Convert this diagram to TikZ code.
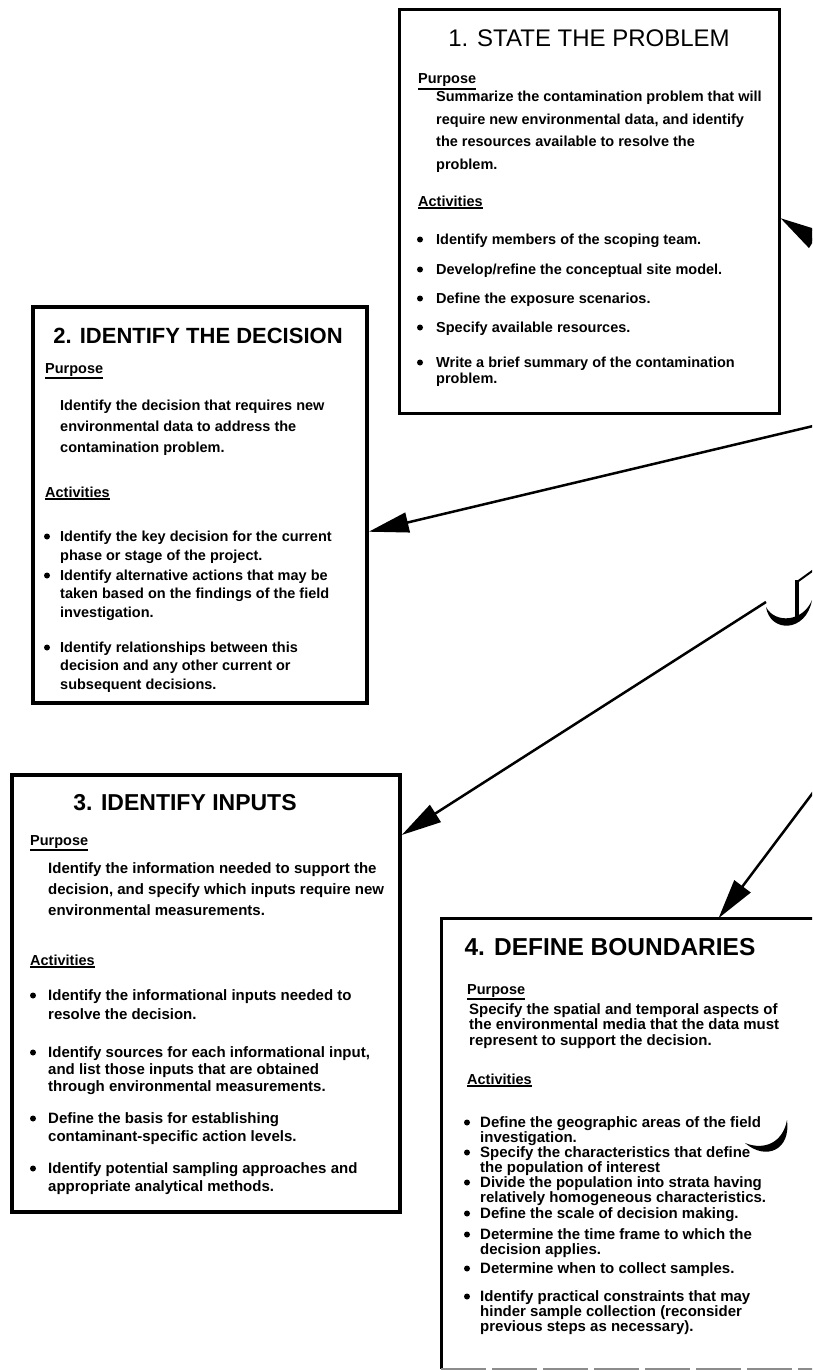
\documentclass[tikz,border=0pt]{standalone}
\usepackage{fontspec}
\setmainfont{Liberation Sans}
\usetikzlibrary{arrows.meta}

\newcommand{\undl}[1]{\vtop{\hbox{#1}\kern1.2pt\hrule height 1.6pt}}
\newcommand{\lines}[1]{\begin{tabular}[t]{@{}l@{}}#1\end{tabular}}

\tikzset{
  stepbox/.style={draw, line width=3.5pt, inner sep=0pt},
  steptitle/.style={anchor=base, inner sep=0pt, font=\fontsize{#1}{#1}\selectfont\bfseries},
  subhead/.style={anchor=base west, inner sep=0pt, font=\fontsize{14.5}{16}\selectfont\bfseries},
  stepbody/.style 2 args={anchor=base west, inner sep=0pt,
    font=\fontsize{#1}{#2}\selectfont\bfseries},
  flow/.style={line width=2.5pt, -{Triangle[length=40pt, width=20pt]}}
}

\begin{document}
\begin{tikzpicture}[x=1pt, y=-1pt]
  % page frame
  \useasboundingbox (0, 0) rectangle (812, 1370);
  \clip (0, 0) rectangle (812, 1370);
  % outlines
  \node [stepbox, line width=3pt, minimum width=380pt, minimum height=403pt] (box1) at (589, 211.5) {};
  \node [stepbox, minimum width=334pt, minimum height=396pt] (box2) at (200, 505) {};
  \node [stepbox, minimum width=388pt, minimum height=437pt] (box3) at (206, 993.5) {};
  \node [stepbox, draw=none, minimum width=387pt, minimum height=447pt] (box4) at (636.5, 1143.5) {};
  \draw [line width=3.5pt] (box4.south west) -- (box4.north west) -- (box4.north east);
  \draw [line width=2pt, black!45, dash pattern=on 45pt off 6pt] (box4.south west) -- (box4.south east);
  % step 1
  \node [steptitle=24, font=\fontsize{24}{24}\selectfont] (t1) at (589, 47) {1. STATE THE PROBLEM};
  \node [subhead] (p1) at (418, 84) {\undl{Purpose}};
  \node [stepbody={14.5}{22.5}] (pb1) at (436, 102) {\lines{Summarize the contamination problem that will\\
    require new environmental data, and identify\\
    the resources available to resolve the\\
    problem.}};
  \node [subhead] (a1) at (418, 206) {\undl{Activities}};
  \node [stepbody={14.5}{19}] (b11) at (436, 244) {Identify members of the scoping team.};
  \node [stepbody={14.5}{19}] (b12) at (436, 274) {Develop/refine the conceptual site model.};
  \node [stepbody={14.5}{19}] (b13) at (436, 303) {Define the exposure scenarios.};
  \node [stepbody={14.5}{19}] (b14) at (436, 332) {Specify available resources.};
  \node [stepbody={14.5}{16}] (b15) at (436, 367) {\lines{Write a brief summary of the contamination\\
    problem.}};
  \foreach \y in {244, 274, 303, 332, 367}
    \fill (420, \y-4.5) circle (3);
  % step 2
  \node [steptitle=22] (t2) at (198, 343) {2. IDENTIFY THE DECISION};
  \node [subhead] (p2) at (45, 373) {\undl{Purpose}};
  \node [stepbody={14.5}{21}] (pb2) at (60, 410) {\lines{Identify the decision that requires new\\
    environmental data to address the\\
    contamination problem.}};
  \node [subhead] (a2) at (45, 497) {\undl{Activities}};
  \node [stepbody={14.5}{19}] (b21) at (60, 541) {\lines{Identify the key decision for the current\\
    phase or stage of the project.}};
  \node [stepbody={14.5}{18.5}] (b22) at (60, 580) {\lines{Identify alternative actions that may be\\
    taken based on the findings of the field\\
    investigation.}};
  \node [stepbody={14.5}{18.5}] (b23) at (60, 652) {\lines{Identify relationships between this\\
    decision and any other current or\\
    subsequent decisions.}};
  \foreach \y in {541, 580, 652}
    \fill (47, \y-4.5) circle (3);
  % step 3
  \node [steptitle=23] (t3) at (185, 810) {3. IDENTIFY INPUTS};
  \node [subhead] (p3) at (30, 845) {\undl{Purpose}};
  \node [stepbody={15}{21}] (pb3) at (48, 873) {\lines{Identify the information needed to support the\\
    decision, and specify which inputs require new\\
    environmental measurements.}};
  \node [subhead] (a3) at (30, 965) {\undl{Activities}};
  \node [stepbody={15}{19}] (b31) at (48, 1000) {\lines{Identify the informational inputs needed to\\
    resolve the decision.}};
  \node [stepbody={15}{17}] (b32) at (48, 1057) {\lines{Identify sources for each informational input,\\
    and list those inputs that are obtained\\
    through environmental measurements.}};
  \node [stepbody={15}{18}] (b33) at (48, 1123) {\lines{Define the basis for establishing\\
    contaminant-specific action levels.}};
  \node [stepbody={15}{18}] (b34) at (48, 1173) {\lines{Identify potential sampling approaches and\\
    appropriate analytical methods.}};
  \foreach \y in {1000, 1057, 1123, 1173}
    \fill (33, \y-4.5) circle (3);
  % step 4
  \node [steptitle=24.5] (t4) at (610, 955) {4. DEFINE BOUNDARIES};
  \node [subhead] (p4) at (467, 994) {\undl{Purpose}};
  \node [stepbody={15}{15.5}] (pb4) at (469, 1014) {\lines{Specify the spatial and temporal aspects of\\
    the environmental media that the data must\\
    represent to support the decision.}};
  \node [subhead] (a4) at (467, 1084) {\undl{Activities}};
  \node [stepbody={15}{15.5}] (b41) at (480, 1127) {\lines{Define the geographic areas of the field\\
    investigation.}};
  \node [stepbody={15}{15}] (b42) at (480, 1157) {\lines{Specify the characteristics that define\\
    the population of interest}};
  \node [stepbody={15}{14.5}] (b43) at (480, 1187) {\lines{Divide the population into strata having\\
    relatively homogeneous characteristics.}};
  \node [stepbody={15}{15}] (b44) at (480, 1218) {Define the scale of decision making.};
  \node [stepbody={15}{14}] (b45) at (480, 1239) {\lines{Determine the time frame to which the\\
    decision applies.}};
  \node [stepbody={15}{15}] (b46) at (480, 1273) {Determine when to collect samples.};
  \node [stepbody={15}{14}] (b47) at (480, 1301) {\lines{Identify practical constraints that may\\
    hinder sample collection (reconsider\\
    previous steps as necessary).}};
  \foreach \y in {1127, 1157, 1187, 1218, 1239, 1273, 1301}
    \fill (467, \y-4.5) circle (3);
  % marks left on the sheet
  \fill (766, 607) .. controls (770, 633) and (806, 633) .. (812, 600)
    .. controls (803, 622) and (775, 624) .. (766, 607);
  \draw [line width=3.5pt] (797, 580) -- (797, 618);
  \draw [line width=2pt] (797, 582) -- (815, 569);
  \fill (787, 1120) .. controls (791, 1150) and (766, 1161) .. (745, 1143)
    .. controls (765, 1151) and (783, 1142) .. (787, 1120);
  % connectors
  \coordinate (in1) at (859, 267);
  \coordinate (in2) at (830, 422);
  \coordinate (in3) at (766, 602);
  \coordinate (in4) at (830, 770);
  \draw [flow] (in1) -- (box1.-2);
  \draw [flow] (in2) -- (box2.-9);
  \draw [flow] (in3) -- (box3.39);
  \draw [flow] (in4) -- (box4.70);
\end{tikzpicture}
\end{document}
